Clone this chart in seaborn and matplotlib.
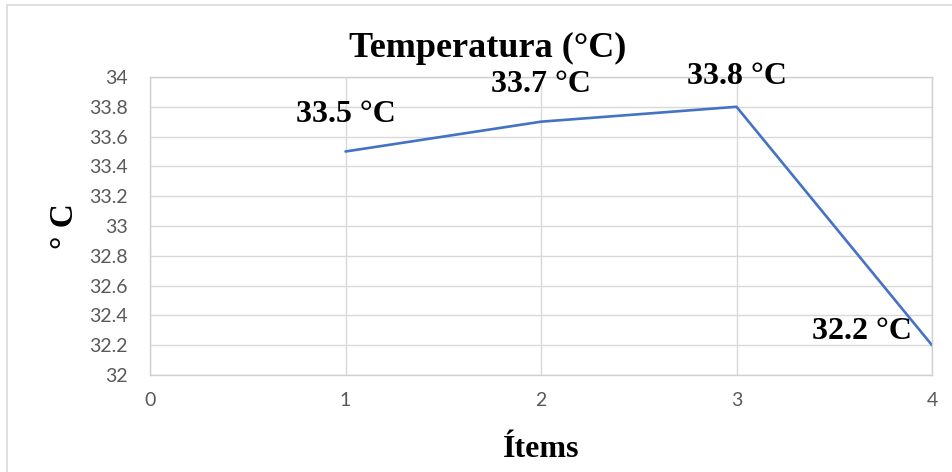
import matplotlib.pyplot as plt
import seaborn as sns
import pandas as pd
from matplotlib.patches import Rectangle

items = [1, 2, 3, 4]
temps = [33.5, 33.7, 33.8, 32.2]
labels = ["33.5 °C", "33.7 °C", "33.8 °C", "32.2 °C"]
# label offsets in pixels (dx, dy) from each point
offsets = [(0, 37), (0, 37), (0, 30), (-70, 14)]

df = pd.DataFrame({"Items": items, "Temp": temps})

sns.set_style("white")
plt.rcParams['font.family'] = ['Lato', 'DejaVu Sans']
plt.rcParams['text.color'] = 'black'

fig = plt.figure(figsize=(9.52, 4.72), dpi=100)
ax = fig.add_axes([0.1576, 0.2055, 0.9790 - 0.1576, 0.8369 - 0.2055])

sns.lineplot(data=df, x="Items", y="Temp", color="#4472C4", linewidth=1.9, ax=ax)

ax.set_xlim(0, 4)
ax.set_ylim(32, 34)
ax.set_xticks([0, 1, 2, 3, 4])
ax.set_yticks([32 + 0.2 * i for i in range(11)])
ax.set_yticklabels(["32", "32.2", "32.4", "32.6", "32.8", "33", "33.2", "33.4", "33.6", "33.8", "34"])
ax.tick_params(axis="both", length=0, labelsize=14, colors="#595959")
ax.tick_params(axis="y", pad=16)
ax.tick_params(axis="x", pad=12)
ax.grid(True, color="#d9d9d9", linewidth=1)
for s in ax.spines.values():
    s.set_color("#d0d0d0")
    s.set_linewidth(1)

serif = ['Liberation Serif', 'DejaVu Serif']
for x, y, lab, (dx, dy) in zip(items, temps, labels, offsets):
    ax.annotate(lab, (x, y), xytext=(dx, dy), textcoords="offset pixels",
                ha="center", va="center", fontsize=23, fontweight="bold",
                family=serif, color="black")

fig.text(0.512, 0.898, "Temperatura (°C)", ha="center", va="center",
         fontsize=26, fontweight="bold", family=serif, color="black")
ax.set_xlabel("Ítems", fontsize=23, fontweight="bold", family=serif, color="black")
ax.set_ylabel("° C", fontsize=24, fontweight="bold", family=serif, color="black")
ax.xaxis.set_label_coords(0.5, -0.2)
ax.yaxis.set_label_coords(-0.09, 0.5)

fig.patches.append(Rectangle((7 / 952, -0.01), 1.0, 1 - 5 / 472 + 0.01, transform=fig.transFigure,
                             fill=False, edgecolor="#d9d9d9", linewidth=1.2))

fig.savefig("out.png", dpi=100)
